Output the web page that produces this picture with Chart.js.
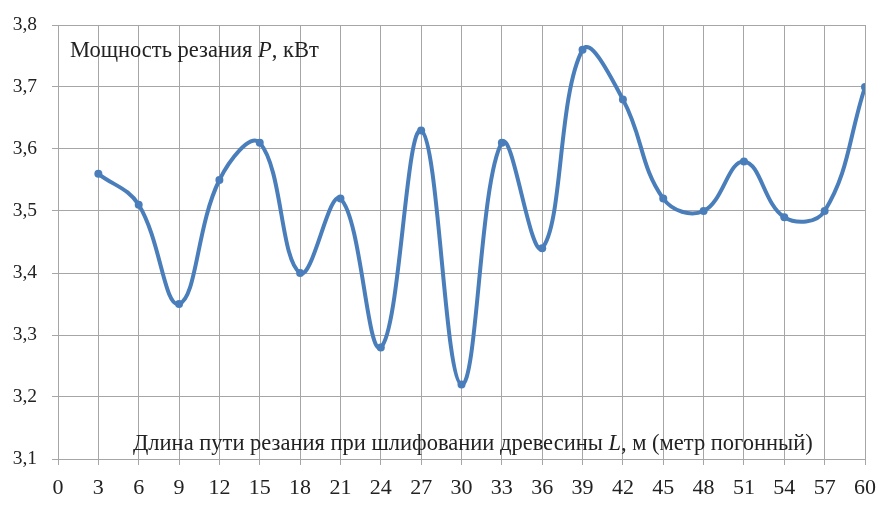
<!DOCTYPE html>
<html>
<head>
<meta charset="utf-8">
<script src="https://cdn.jsdelivr.net/npm/chart.js@4"></script>
<style>
  html, body { margin: 0; padding: 0; background: #fff; }
  #wrap { width: 880px; height: 507px; }
</style>
</head>
<body>
<div id="wrap"><canvas id="chart"></canvas></div>
<script>
// Path length L, m
const lengths = [3, 6, 9, 12, 15, 18, 21, 24, 27, 30, 33, 36, 39, 42, 45, 48, 51, 54, 57, 60];
// Cutting power P, kW
const power = [3.56, 3.51, 3.35, 3.55, 3.61, 3.40, 3.52, 3.28, 3.63, 3.22,
               3.61, 3.44, 3.76, 3.68, 3.52, 3.50, 3.58, 3.49, 3.50, 3.70];

const yTitle = [["Мощность резания ", ""], ["P", "italic"], [", кВт", ""]];
const xTitle = [["Длина пути резания при шлифовании древесины ", ""], ["L", "italic"], [", м (метр погонный)", ""]];

const FONT = "'Liberation Serif', 'DejaVu Serif', serif";
const GRID = "#a6a6a6";

// draw a line of text made of runs (some italic)
function drawRuns(ctx, runs, x, y, size) {
  let cx = x;
  runs.forEach(([txt, style]) => {
    ctx.font = `${style} ${size}px ${FONT}`.trim();
    ctx.fillText(txt, cx, y);
    cx += ctx.measureText(txt).width;
  });
}

const labelsPlugin = {
  id: "inlineTitles",
  afterDatasetsDraw(chart) {
    const ctx = chart.ctx;
    const area = chart.chartArea;
    ctx.save();
    ctx.fillStyle = "#222";
    ctx.textBaseline = "middle";
    drawRuns(ctx, yTitle, area.left + 12, area.top + 26, 22.5);
    drawRuns(ctx, xTitle, area.left + 75, area.bottom - 15, 22.5);
    ctx.restore();
  },
};

new Chart(document.getElementById("chart"), {
  type: "line",
  data: {
    datasets: [
      {
        data: lengths.map((x, i) => ({ x: x, y: power[i] })),
        borderColor: "#4a7ebb",
        backgroundColor: "#4a7ebb",
        borderWidth: 4,
        pointRadius: 4,
        pointBorderWidth: 0,
        tension: 0.4,
        fill: false,
      },
    ],
  },
  options: {
    responsive: true,
    maintainAspectRatio: false,
    animation: false,
    layout: { padding: { left: 0, right: 15, top: 25, bottom: 0 } },
    plugins: {
      legend: { display: false },
      tooltip: { enabled: false },
    },
    scales: {
      x: {
        type: "linear",
        min: 0,
        max: 60,
        ticks: {
          stepSize: 3,
          padding: 10,
          color: "#222",
          font: { family: FONT, size: 22 },
          maxRotation: 0,
        },
        grid: { color: GRID, tickLength: 6, tickColor: GRID },
        border: { color: GRID },
        afterFit(scale) {
          scale.height = 48;
          // let the last label hang past the plot edge
          scale.paddingRight = 0;
          scale.paddingLeft = 0;
        },
      },
      y: {
        min: 3.1,
        max: 3.8,
        ticks: {
          stepSize: 0.1,
          padding: 15,
          color: "#222",
          font: { family: FONT, size: 19.5 },
          callback: (v) => v.toFixed(1).replace(".", ","),
        },
        grid: { color: GRID, tickLength: 6, tickColor: GRID },
        border: { color: GRID },
        afterFit(scale) {
          scale.width = 58;
          scale.paddingTop = 0;
        },
      },
    },
  },
  plugins: [labelsPlugin],
});
</script>
</body>
</html>
